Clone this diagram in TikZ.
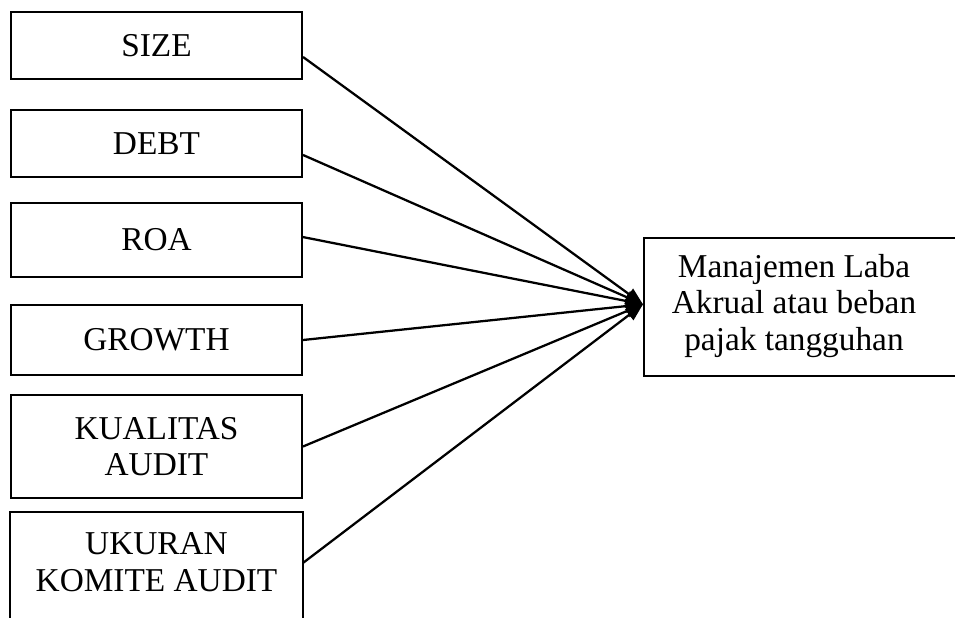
\documentclass[tikz,border=0pt]{standalone}
\usepackage{fontspec}
\setmainfont{Liberation Serif}
\usetikzlibrary{arrows.meta}

\begin{document}
\begin{tikzpicture}[x=0.75pt,y=-0.75pt,
   var/.style={draw,line width=1.5pt,minimum width=218.25pt,align=center,inner sep=0pt,
     font=\fontsize{25}{27.5}\selectfont},
   link/.style={line width=1.7pt,-{Triangle[length=13pt,width=10pt]}}]
   \useasboundingbox (0,0) rectangle (955,617);
   \clip (0,0) rectangle (955,617);
   % independent variables
   \node[var,minimum height=50.25pt] (size) at (156.5,45.5) {SIZE};
   \node[var,minimum height=50.25pt] (debt) at (156.5,143.5) {DEBT};
   \node[var,minimum height=55.5pt] (roa) at (156.5,240) {ROA};
   \node[var,minimum height=52.5pt] (growth) at (156.5,340) {GROWTH};
   \node[var,minimum height=77.25pt] (kualitas) at (156.5,446.5) {KUALITAS\\AUDIT};
   \node[var,draw=none,minimum height=73.5pt] (komite) at (156.5,562) {UKURAN\\KOMITE AUDIT};
   \draw[line width=1.5pt] ([yshift=-20pt]komite.south west) -- (komite.north west)
     -- (komite.north east) -- ([yshift=-20pt]komite.south east);
   % dependent variable
   \node[draw,line width=1.5pt,minimum width=252.75pt,minimum height=103.5pt,anchor=north west]
     (labafrm) at (643,237) {};
   \node[align=center,font=\fontsize{25}{27.5}\selectfont] (laba) at (794,306)
     {Manajemen Laba\\Akrual atau beban\\pajak tangguhan};
   % links
   \draw[link] ([yshift=-8.6pt]size.east) -- ([yshift=2pt]labafrm.west);
   \draw[link] ([yshift=-8.6pt]debt.east) -- ([yshift=2pt]labafrm.west);
   \draw[link] ([yshift=2.2pt]roa.east) -- ([yshift=2pt]labafrm.west);
   \draw[link] (growth.east) -- ([yshift=2pt]labafrm.west);
   \draw[link] (kualitas.east) -- ([yshift=2pt]labafrm.west);
   \draw[link] ([yshift=-0.7pt]komite.east) -- ([yshift=2pt]labafrm.west);
\end{tikzpicture}
\end{document}
